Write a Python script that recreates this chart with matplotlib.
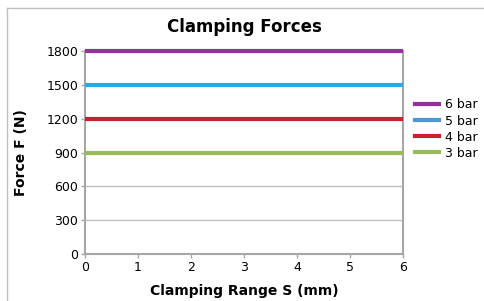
import matplotlib
matplotlib.use("Agg")
import matplotlib.pyplot as plt
from matplotlib.lines import Line2D

stroke_mm = [0, 1, 2, 3, 4, 5, 6]
series_names = ["3 bar", "4 bar", "5 bar", "6 bar"]
force_3bar = [900, 900, 900, 900, 900, 900, 900]
force_4bar = [1200, 1200, 1200, 1200, 1200, 1200, 1200]
force_5bar = [1500, 1500, 1500, 1500, 1500, 1500, 1500]
force_6bar = [1800, 1800, 1800, 1800, 1800, 1800, 1800]
y_ticks = [0, 300, 600, 900, 1200, 1500, 1800]

line_colors = ["#9BBB59", "#C8202F", "#29ABE2", "#93329E"]
legend_colors = ["#9BBB59", "#C8202F", "#4F94D4", "#93329E"]

fig = plt.figure(figsize=(4.84, 3.01), dpi=100)
fig.patch.set_facecolor("white")
# outer chart border (only top and left visible in the reference)
bx, by = 6.5 / 484, 1 - 7.5 / 301
fig.add_artist(Line2D([bx, bx], [0, by], transform=fig.transFigure, color="#BFBFBF", linewidth=1.0))
fig.add_artist(Line2D([bx, 1], [by, by], transform=fig.transFigure, color="#BFBFBF", linewidth=1.0))

ax = fig.add_axes([85/484, 1 - 254/301, (403 - 85)/484, (254 - 51)/301])
ax.set_xlim(0, 6)
ax.set_ylim(0, 1800)
ax.set_yticks(y_ticks)
ax.set_xticks(stroke_mm)
ax.yaxis.grid(True, color="#BFBFBF", linewidth=1.0)
ax.set_axisbelow(True)

series = [force_3bar, force_4bar, force_5bar, force_6bar]
for vals, c, name in zip(series, line_colors, series_names):
    ax.plot(stroke_mm, vals, color=c, linewidth=3.0, solid_capstyle="butt", label=name, clip_on=False, zorder=3)

for s in ["left", "bottom", "right"]:
    ax.spines[s].set_color("#A6A6A6")
    ax.spines[s].set_linewidth(1.5)
ax.spines["top"].set_visible(False)
ax.tick_params(axis="both", direction="out", length=3, width=1, color="#A6A6A6",
               labelsize=9, labelcolor="black", pad=2)

ax.set_title("Clamping Forces", fontsize=12, fontweight="bold", pad=14)
ax.set_xlabel("Clamping Range S (mm)", fontsize=10, fontweight="bold", labelpad=7)
ax.set_ylabel("Force F (N)", fontsize=10, fontweight="bold", labelpad=13)

handles = [Line2D([0], [0], color=c, linewidth=3.0) for c in legend_colors]
order = [3, 2, 1, 0]
leg = ax.legend([handles[i] for i in order], [series_names[i] for i in order],
                loc="center left", bbox_to_anchor=(1.022, 0.615), frameon=False,
                fontsize=9, handlelength=1.9, handletextpad=0.5, labelspacing=0.25,
                borderaxespad=0)

fig.savefig("out.png", dpi=100)
